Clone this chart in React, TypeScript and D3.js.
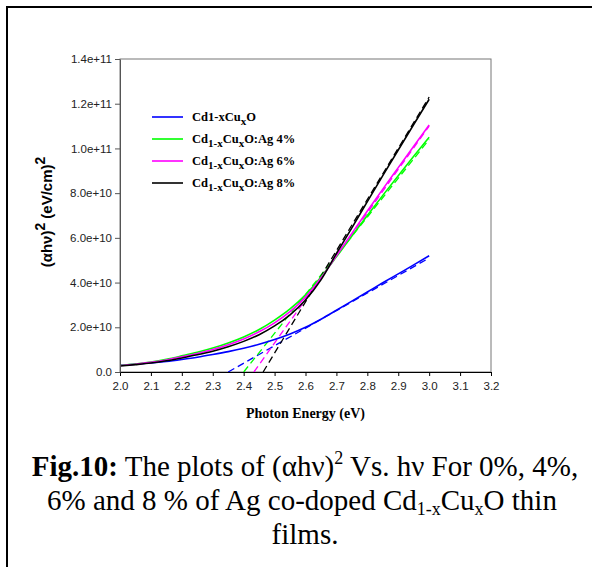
import React, { useEffect, useRef } from "react";
import * as d3 from "d3";

// photon energy (eV) and (alpha h nu)^2 in 1e10 (eV/cm)^2
const energy = [2.0, 2.05, 2.1, 2.15, 2.2, 2.25, 2.3, 2.35, 2.4, 2.45, 2.5, 2.55, 2.6, 2.65, 2.7, 2.75, 2.8, 2.85, 2.9, 2.95, 3.0];
const cuO = [0.3, 0.35, 0.4, 0.47, 0.56, 0.66, 0.78, 0.91, 1.06, 1.24, 1.45, 1.7, 2.0, 2.36, 2.76, 3.17, 3.58, 3.99, 4.39, 4.79, 5.2];
const ag4 = [0.3, 0.36, 0.45, 0.57, 0.72, 0.88, 1.07, 1.3, 1.57, 1.9, 2.32, 2.82, 3.45, 4.25, 5.15, 6.08, 7.0, 7.9, 8.78, 9.65, 10.5];
const ag6 = [0.29, 0.35, 0.43, 0.54, 0.68, 0.83, 1.01, 1.22, 1.48, 1.8, 2.2, 2.7, 3.35, 4.2, 5.2, 6.2, 7.2, 8.18, 9.14, 10.1, 11.05];
const ag8 = [0.27, 0.33, 0.4, 0.5, 0.63, 0.77, 0.93, 1.13, 1.37, 1.67, 2.06, 2.56, 3.22, 4.12, 5.3, 6.45, 7.62, 8.78, 9.93, 11.07, 12.2];

const seriesColors = ["#0000ff", "#00ff00", "#ff00ff", "#000000"];
// legend labels as [text, subscript?] pieces
const legendLabels: [string, boolean][][] = [
  [["Cd1-xCu", false], ["x", true], ["O", false]],
  [["Cd", false], ["1-x", true], ["Cu", false], ["x", true], ["O:Ag 4%", false]],
  [["Cd", false], ["1-x", true], ["Cu", false], ["x", true], ["O:Ag 6%", false]],
  [["Cd", false], ["1-x", true], ["Cu", false], ["x", true], ["O:Ag 8%", false]],
];

// linear fits (dashed): x-intercept and value at 3.0 eV
const fitIntercept = [2.35, 2.4, 2.433, 2.463];
const fitEndValue = [5.1, 10.4, 11.0, 12.3];
const fitEnd = 3.0;

const xTicks = [2.0, 2.1, 2.2, 2.3, 2.4, 2.5, 2.6, 2.7, 2.8, 2.9, 3.0, 3.1, 3.2];
const yTicks = [0, 2e10, 4e10, 6e10, 8e10, 1e11, 1.2e11, 1.4e11];

export default function App() {
  const ref = useRef<SVGSVGElement>(null);

  useEffect(() => {
    const svg = d3.select(ref.current);
    svg.selectAll("*").remove();

    const left = 120, right = 491, top = 59, bottom = 372;
    const x = d3.scaleLinear().domain([2.0, 3.2]).range([left, right]);
    const y = d3.scaleLinear().domain([0, 1.4e11]).range([bottom, top]);

    // page border
    svg.append("line").attr("x1", 6).attr("x2", 592).attr("y1", 7).attr("y2", 7)
      .attr("stroke", "#000").attr("stroke-width", 2);
    svg.append("line").attr("x1", 7).attr("x2", 7).attr("y1", 6).attr("y2", 567)
      .attr("stroke", "#000").attr("stroke-width", 2);

    // plot frame
    svg.append("rect").attr("x", left).attr("y", top)
      .attr("width", right - left).attr("height", bottom - top)
      .attr("fill", "none").attr("stroke", "#777").attr("stroke-width", 1);

    const all = [cuO, ag4, ag6, ag8];
    const line = d3.line<[number, number]>()
      .x(d => x(d[0])).y(d => y(d[1] * 1e10))
      .curve(d3.curveMonotoneX);

    // dashed fits
    all.forEach((_, i) => {
      const pts: [number, number][] = [[fitIntercept[i], 0], [fitEnd, fitEndValue[i]]];
      svg.append("path").attr("d", line(pts))
        .attr("fill", "none").attr("stroke", seriesColors[i])
        .attr("stroke-width", 1.3).attr("stroke-dasharray", "7,4");
    });

    all.forEach((vals, i) => {
      const pts: [number, number][] = energy.map((e, j) => [e, vals[j]]);
      svg.append("path").attr("d", line(pts))
        .attr("fill", "none").attr("stroke", seriesColors[i])
        .attr("stroke-width", 1.6);
    });

    // axes
    const gx = svg.append("g").attr("transform", `translate(0,${bottom})`)
      .call(d3.axisBottom(x).tickValues(xTicks).tickFormat(d3.format(".1f")).tickSize(4).tickSizeOuter(0));
    gx.select(".domain").attr("stroke", "#000");
    gx.selectAll(".tick line").attr("stroke", "#000");
    gx.selectAll("text").attr("font-family", "Arial, 'Liberation Sans', sans-serif")
      .attr("font-size", 11.5).attr("fill", "#222").attr("dy", "0.95em");

    const gy = svg.append("g").attr("transform", `translate(${left},0)`)
      .call(d3.axisLeft(y).tickValues(yTicks)
        .tickFormat(d => (+d === 0 ? "0.0" : d3.format(".1e")(+d)))
        .tickSize(5).tickSizeOuter(0));
    gy.select(".domain").attr("stroke", "#555");
    gy.selectAll(".tick line").attr("stroke", "#555");
    gy.selectAll("text").attr("font-family", "Arial, 'Liberation Sans', sans-serif")
      .attr("font-size", 11.5).attr("fill", "#222").attr("x", -8);

    // axis titles
    svg.append("text").attr("x", (left + right) / 2).attr("y", 418)
      .attr("text-anchor", "middle")
      .attr("font-family", "'Liberation Serif', 'Times New Roman', serif")
      .attr("font-weight", "bold").attr("font-size", 14)
      .text("Photon Energy (eV)");

    const yt = svg.append("text").attr("transform", "translate(52,212) rotate(-90)")
      .attr("text-anchor", "middle")
      .attr("font-family", "Arial, 'Liberation Sans', sans-serif")
      .attr("font-weight", "bold").attr("font-size", 15);
    yt.append("tspan").text("(αhν)");
    yt.append("tspan").attr("dy", -7).attr("font-size", 14).text("2");
    yt.append("tspan").attr("dy", 7).text(" (eV/cm)");
    yt.append("tspan").attr("dy", -7).attr("font-size", 14).text("2");

    // legend
    legendLabels.forEach((parts, i) => {
      const ly = 117 + i * 22;
      svg.append("line").attr("x1", 152).attr("x2", 183).attr("y1", ly).attr("y2", ly)
        .attr("stroke", seriesColors[i]).attr("stroke-width", 1.6);
      const t = svg.append("text").attr("x", 192).attr("y", ly + 4)
        .attr("font-family", "'Liberation Serif', 'Times New Roman', serif")
        .attr("font-weight", "bold").attr("font-size", 12.5);
      let shifted = false;
      parts.forEach(([s, sub]) => {
        const ts = t.append("tspan").text(s);
        if (sub && !shifted) { ts.attr("dy", 4).attr("font-size", 11); shifted = true; }
        else if (sub) ts.attr("font-size", 11);
        else if (shifted) { ts.attr("dy", -4); shifted = false; }
      });
    });

    // caption
    const cap = svg.append("g")
      .attr("font-family", "'Liberation Serif', 'Times New Roman', serif")
      .attr("font-size", 29).attr("text-anchor", "middle");
    const l1 = cap.append("text").attr("x", 305).attr("y", 476);
    l1.append("tspan").attr("font-weight", "bold").text("Fig.10:");
    l1.append("tspan").text(" The plots of (αhν)");
    l1.append("tspan").attr("dy", -12).attr("font-size", 18).text("2");
    l1.append("tspan").attr("dy", 12).text(" Vs. hν For 0%, 4%,");
    const l2 = cap.append("text").attr("x", 302).attr("y", 510);
    l2.append("tspan").text("6% and 8 % of Ag co-doped Cd");
    l2.append("tspan").attr("dy", 5).attr("font-size", 18).text("1-x");
    l2.append("tspan").attr("dy", -5).text("Cu");
    l2.append("tspan").attr("dy", 5).attr("font-size", 18).text("x");
    l2.append("tspan").attr("dy", -5).text("O thin");
    cap.append("text").attr("x", 305).attr("y", 544).text("films.");
  }, []);

  return (
    <svg ref={ref} width={592} height={567}
      style={{ position: "absolute", left: 0, top: 0, background: "#fff" }} />
  );
}
